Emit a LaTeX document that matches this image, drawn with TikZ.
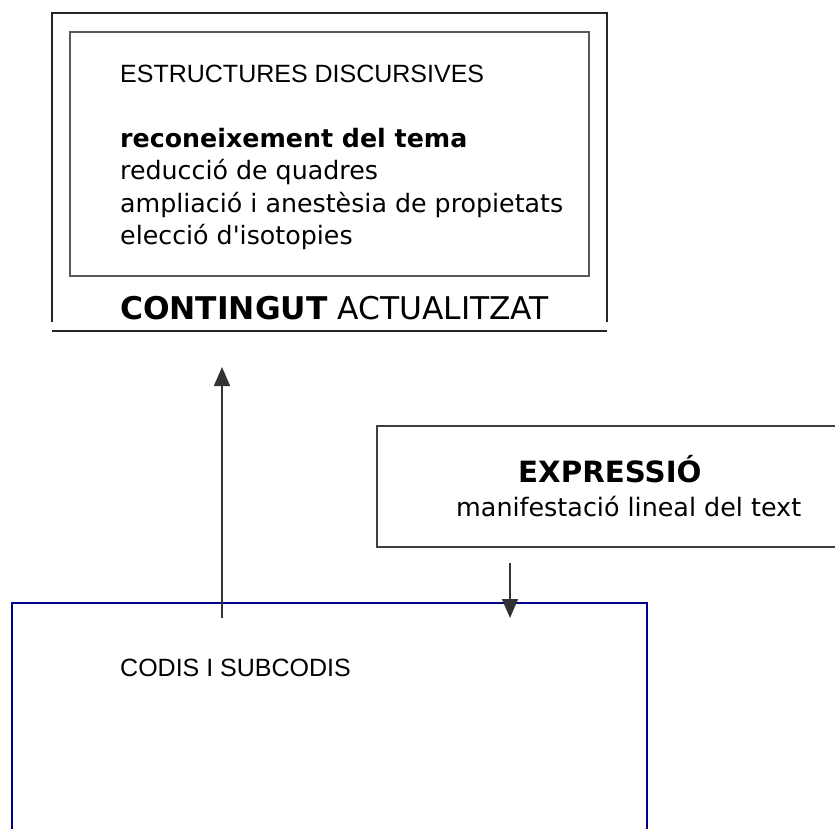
\documentclass[tikz,border=0pt]{standalone}
\usepackage{fontspec}
\setmainfont{DejaVu Sans}
\newfontfamily\arialfont{Liberation Sans}
\usetikzlibrary{arrows.meta}
\definecolor{navy}{RGB}{0,0,140}
\tikzset{
  area/.style={rectangle, inner sep=0pt},
  panel/.style={area, draw=black!65, line width=1.2pt},
  outline/.style={draw=black!85, line width=1.6pt},
  txt/.style={anchor=base west, inner sep=0pt}
}
\tikzstyle{arrow} = [-{Triangle[length=19pt, width=16pt]}, draw=black!80, line width=1.5pt]
\def\sz#1#2{\fontsize{#1}{#2}\selectfont}

\begin{document}
\begin{tikzpicture}[x=1pt, y=-1pt]
    \useasboundingbox (0,0) rectangle (835,829);
    \clip (0,0) rectangle (835,829);
    % boxes
    \node[area, minimum width=555pt, minimum height=318pt] (contingut) at (329.5,172) {};
    \node[panel, minimum width=519pt, minimum height=244pt] (estructures) at (329.5,154) {};
    \node[panel, draw=black!75, minimum width=523pt, minimum height=121pt] (expressio) at (638.5,486.5) {};
    \node[area, draw=navy, line width=1.6pt, minimum width=635pt, minimum height=297pt] (codis) at (329.5,751.5) {};
    \draw[outline] ([yshift=9pt]contingut.south west) -- (contingut.north west) -- (contingut.north east) -- ([yshift=9pt]contingut.south east);
    \draw[outline] (contingut.south west) -- (contingut.south east);
    % texts (base of the list = its last line)
    \node[txt, font=\arialfont\sz{25}{30}] (estructures-titol) at (120,83) {ESTRUCTURES DISCURSIVES};
    \node[txt, align=left, font=\sz{25.3}{32.5}] (operacions) at (120,244.5) {\textbf{reconeixement del tema}\\reducció de quadres\\ampliació i anestèsia de propietats\\elecció d\textquotesingle isotopies};
    \node[txt, font=\sz{31.3}{36}] (contingut-titol) at (120,319) {\textbf{CONTINGUT} ACTUALITZAT};
    \node[txt, font=\bfseries\sz{29.3}{34}] (expressio-titol) at (518,482) {EXPRESSIÓ};
    \node[txt, font=\sz{25.4}{30}] (expressio-text) at (456,516) {manifestació lineal del text};
    \node[txt, font=\arialfont\sz{25}{30}] (codis-titol) at (120,676) {CODIS I SUBCODIS};
    % arrows
    \coordinate (pujada) at (222,618);
    \coordinate (pujada-fi) at (222,367);
    \coordinate (baixada) at (510,563);
    \coordinate (baixada-fi) at (510,618);
    \draw[arrow] (pujada) -- (pujada-fi);
    \draw[arrow] (baixada) -- (baixada-fi);
\end{tikzpicture}
\end{document}
